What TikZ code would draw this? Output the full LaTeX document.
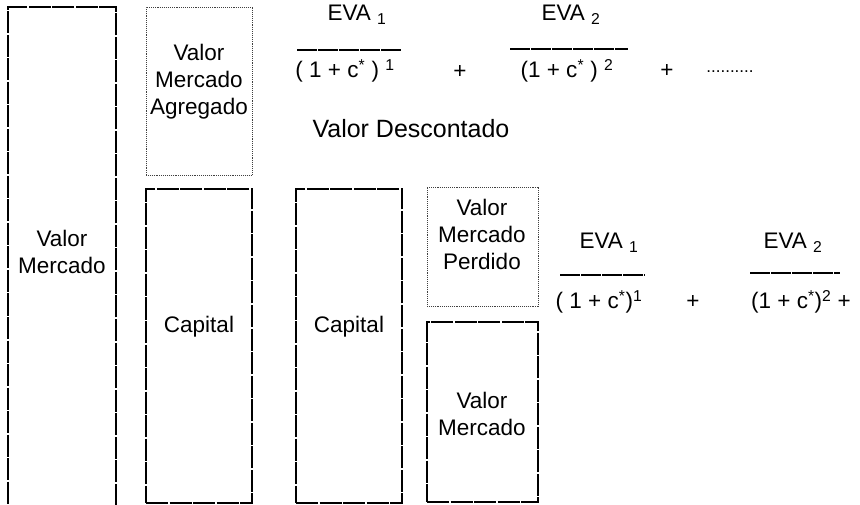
\documentclass[tikz,border=0pt]{standalone}
\usepackage{fontspec}
\setmainfont{Liberation Sans}
\usetikzlibrary{positioning}

\begin{document}
\begin{tikzpicture}[x=1pt, y=-1pt,
        caja/.style={draw, line width=1.3pt, dash pattern=on 22pt off 1.5pt, inner sep=0pt},
        punteada/.style={draw=black!75, line width=0.9pt, densely dotted, inner sep=0pt},
        txt/.style={align=center, inner sep=0pt, font=\fontsize{22.5}{27}\selectfont},
        raya/.style={line width=1.3pt, dash pattern=on 20pt off 1pt}
      ]
        \useasboundingbox (0,0) rectangle (860,505);
        % cajas
        \node[caja, minimum width=108pt, minimum height=508pt] (vm) at (62,261) {};
        \node[punteada, minimum width=106pt, minimum height=168pt] (vma) at (199,91) {};
        \node[caja, minimum width=106pt, minimum height=314pt] (cap1) at (199,346) {};
        \node[caja, minimum width=106pt, minimum height=314pt] (cap2) at (349,346) {};
        \node[punteada, minimum width=111pt, minimum height=119pt] (vmp) at (482.5,246.5) {};
        \node[caja, minimum width=111pt, minimum height=180pt] (vm2) at (482.5,412) {};
        % textos de las cajas
        \node[txt] (tvm) at (62,252) {Valor\\Mercado};
        \node[txt] (tvma) at (199,82) {Valor\\Mercado\\Agregado};
        \foreach \c/\x in {cap1/199, cap2/349} { \node[txt] (t\c) at (\x,327) {Capital}; }
        \node[txt] (tvmp) at (482,234) {Valor\\Mercado\\Perdido};
        \node[txt] (tvm2) at (482,414) {Valor\\Mercado};
        \node[txt, font=\fontsize{25}{28}\selectfont] (vd) at (411,129) {Valor Descontado};
        % valor descontado, arriba
        \node[txt] (n1) at (357,15) {EVA \textsubscript{1}};
        \draw[raya] (297,50) -- (402,50);
        \node[txt] (d1) at (345,71) {( 1 + c\textsuperscript{*} ) \textsuperscript{1}};
        \node[txt] (p1) at (460,72) {+};
        \node[txt] (n2) at (571,15) {EVA \textsubscript{2}};
        \draw[raya] (510,49) -- (628,49);
        \node[txt] (d2) at (567,71) {(1 + c\textsuperscript{*} ) \textsuperscript{2}};
        \node[txt] (p2) at (667,71) {+};
        \node[txt, font=\fontsize{17}{20}\selectfont] (pts) at (730,72) {..........};
        % valor descontado, abajo
        \node[txt] (n3) at (609,243) {EVA \textsubscript{1}};
        \draw[raya] (560,275) -- (645,275);
        \node[txt] (d3) at (599,302) {( 1 + c\textsuperscript{*})\textsuperscript{1}};
        \node[txt] (p3) at (693,302) {+};
        \node[txt] (n4) at (793,243) {EVA \textsubscript{2}};
        \draw[raya] (750,273) -- (840,273);
        \node[txt] (d4) at (801,302) {(1 + c\textsuperscript{*})\textsuperscript{2} +};
      \end{tikzpicture}
\end{document}
